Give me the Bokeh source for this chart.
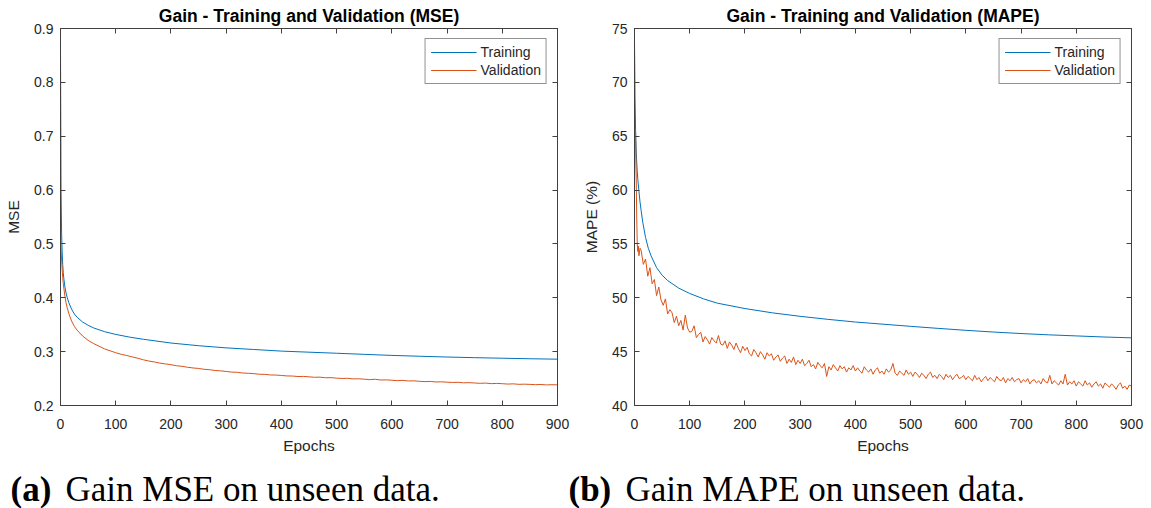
from bokeh.plotting import figure
from bokeh.models import Range1d, LinearAxis, FixedTicker, ColumnDataSource
from bokeh.layouts import row, column
from bokeh.embed import file_html
from bokeh.resources import INLINE
from bokeh.core.properties import value

# ---------------- data ----------------
titles = ["Gain - Training and Validation (MSE)", "Gain - Training and Validation (MAPE)"]
y_labels = ["MSE", "MAPE (%)"]
x_label = "Epochs"
series_names = ["Training", "Validation"]
captions_tag = ["(a)", "(b)"]
captions_text = ["Gain MSE on unseen data.", "Gain MAPE on unseen data."]

x_ticks = [0, 100, 200, 300, 400, 500, 600, 700, 800, 900]
mse_ticks = [0.2, 0.3, 0.4, 0.5, 0.6, 0.7, 0.8, 0.9]
mape_ticks = [40, 45, 50, 55, 60, 65, 70, 75]

train_epochs = [0, 1, 2, 3, 4, 5, 6, 8, 10, 12, 15, 20, 25, 30, 40, 50, 60, 80, 100, 125, 150,
                200, 250, 300, 350, 400, 450, 500, 550, 600, 650, 700, 750, 800, 850, 900]
mse_train = [0.860, 0.600, 0.520, 0.485, 0.462, 0.447, 0.436, 0.420, 0.409, 0.401, 0.391,
             0.379, 0.370, 0.364, 0.355, 0.349, 0.344, 0.337, 0.332, 0.327, 0.323,
             0.316, 0.311, 0.307, 0.304, 0.301, 0.299, 0.297, 0.295, 0.293, 0.2915,
             0.2900, 0.2888, 0.2878, 0.2868, 0.2860]
mape_train = [73.7, 68.5, 65.5, 63.8, 62.6, 61.7, 61.0, 59.9, 58.9, 58.1, 57.0,
              55.6, 54.6, 53.9, 52.8, 52.1, 51.6, 50.9, 50.4, 49.9, 49.5,
              49.0, 48.6, 48.28, 48.0, 47.75, 47.55, 47.35, 47.16, 46.98, 46.82,
              46.68, 46.56, 46.46, 46.36, 46.28]

mse_val_epochs = [0, 1, 2, 3, 4, 5, 6, 8, 10, 12, 15, 20, 25, 30, 40, 50, 60, 80, 100] + list(range(110, 901, 10))
mse_val = [0.525, 0.495, 0.470, 0.452, 0.438, 0.427, 0.418, 0.403, 0.391, 0.382, 0.371,
           0.357, 0.347, 0.340, 0.329, 0.321, 0.315, 0.305, 0.298,
           0.2950, 0.2928, 0.2902, 0.2878, 0.2848, 0.2826, 0.2808, 0.2787, 0.2772, 0.2758,
           0.2738, 0.2728, 0.2710, 0.2697, 0.2688, 0.2672, 0.2665, 0.2650, 0.2643, 0.2632,
           0.2620, 0.2617, 0.2603, 0.2598, 0.2592, 0.2580, 0.2578, 0.2567, 0.2565, 0.2558,
           0.2549, 0.2547, 0.2538, 0.2540, 0.2532, 0.2524, 0.2526, 0.2515, 0.2517, 0.2508,
           0.2502, 0.2505, 0.2494, 0.2496, 0.2489, 0.2480, 0.2487, 0.2473, 0.2476, 0.2469,
           0.2462, 0.2466, 0.2455, 0.2458, 0.2449, 0.2443, 0.2447, 0.2437, 0.2440, 0.2433,
           0.2428, 0.2431, 0.2421, 0.2424, 0.2418, 0.2412, 0.2416, 0.2406, 0.2410, 0.2405,
           0.2398, 0.2402, 0.2393, 0.2396, 0.2392, 0.2387, 0.2390, 0.2382, 0.2386, 0.2383]

mape_val_epochs = [0, 1, 2, 3, 4, 5, 6, 7, 8, 10] + list(range(12, 901, 4))
mape_val = [61.0, 64.0, 65.3, 61.5, 57.5, 55.0, 54.3, 54.8, 53.9, 54.6,
            # 12 .. 100
            54.4, 53.1, 53.6, 52.0, 52.8, 51.3, 51.7, 50.2, 51.0, 49.8, 49.3, 49.9,
            48.5, 48.9, 48.6, 47.7, 48.3, 47.4, 47.9, 47.0, 48.4, 47.2, 46.8,
            # 104 .. 200
            46.9, 47.4, 46.3, 46.6, 46.8, 45.9, 46.4, 46.1, 45.7, 46.3, 46.0, 45.8, 46.5,
            45.7, 45.6, 46.0, 45.3, 45.9, 45.6, 45.2, 45.8, 45.3, 44.9, 45.5, 45.1,
            # 204 .. 300
            45.4, 44.8, 44.6, 45.2, 44.9, 44.5, 45.0, 44.7, 44.3, 44.9, 44.6, 44.8, 44.2,
            44.5, 44.7, 44.1, 44.4, 44.6, 43.9, 44.3, 44.0, 44.5, 43.8, 44.2, 43.9,
            # 304 .. 400
            44.3, 43.7, 43.9, 44.2, 43.6, 43.8, 43.4, 44.0, 43.7, 43.5, 43.9, 42.7, 43.6,
            43.3, 43.8, 43.5, 43.2, 43.7, 43.4, 43.6, 43.1, 43.5, 43.3, 43.7, 43.2,
            # 404 .. 500
            43.5, 43.2, 43.0, 43.6, 43.3, 43.1, 43.4, 42.9, 43.3, 43.5, 43.0, 43.2, 42.9,
            43.4, 43.1, 43.3, 43.9, 43.0, 42.8, 43.2, 43.0, 42.8, 43.3, 42.9, 43.1,
            # 504 .. 600
            42.7, 43.1, 42.9, 42.6, 43.0, 42.8, 42.5, 42.9, 43.1, 42.6, 42.8, 42.5, 42.9,
            42.7, 42.4, 42.9, 42.6, 42.8, 42.4, 42.7, 42.9, 42.5, 42.6, 42.8, 42.4,
            # 604 .. 700
            42.7, 42.5, 42.3, 42.8, 42.4, 42.6, 42.2, 42.5, 42.7, 42.3, 42.6, 42.4, 42.2,
            42.7, 42.4, 42.3, 42.6, 42.1, 42.5, 42.3, 42.6, 42.2, 42.4, 42.5, 42.1,
            # 704 .. 800
            42.4, 42.2, 42.5, 42.0, 42.3, 42.4, 42.1, 42.3, 42.0, 42.5, 42.2, 42.1, 42.8,
            42.0, 42.3, 42.1, 41.9, 42.3, 42.0, 42.9, 41.9, 42.2, 42.0, 42.3, 41.8,
            # 804 .. 900
            42.2, 42.0, 41.8, 42.3, 41.9, 42.1, 41.7, 42.0, 42.2, 41.8, 42.0, 41.6, 42.1,
            41.9, 41.7, 42.0, 41.8, 41.5, 41.9, 42.1, 41.6, 41.8, 41.5, 41.9, 41.8]

# ---------------- style ----------------
BLUE = "#0072BD"
ORANGE = "#D95319"
AXC = "#404040"
TXT = "#262626"
SANS = "Liberation Sans"
SERIF = "Liberation Serif"


def make_plot(title, ylabel, ticks, yr, xs_tr, ys_tr, xs_va, ys_va, border_left, border_right):
    p = figure(width=border_left + 497 + border_right, height=460,
               frame_width=497, frame_height=377,
               x_range=Range1d(0, 900), y_range=Range1d(*yr),
               output_backend="svg", toolbar_location=None,
               min_border_left=border_left, min_border_right=border_right,
               min_border_top=28, min_border_bottom=55)
    p.background_fill_color = "white"
    p.border_fill_color = "white"
    p.xgrid.visible = False
    p.ygrid.visible = False
    p.outline_line_color = AXC
    p.outline_line_width = 1

    p.title.text = title
    p.title.align = "center"
    p.title.text_font = SANS
    p.title.text_font_size = "17.5px"
    p.title.text_font_style = "bold"
    p.title.text_color = "black"
    p.title.standoff = 6

    for ax in (p.xaxis[0], p.yaxis[0]):
        ax.major_tick_in = 5
        ax.major_tick_out = 0
        ax.minor_tick_line_color = None
        ax.axis_line_color = AXC
        ax.major_tick_line_color = AXC
        ax.major_label_text_font = SANS
        ax.major_label_text_font_size = "14px"
        ax.major_label_text_color = TXT
        ax.axis_label_text_font = SANS
        ax.axis_label_text_font_size = "15.5px"
        ax.axis_label_text_font_style = "normal"
        ax.axis_label_text_color = TXT
    p.xaxis[0].ticker = FixedTicker(ticks=x_ticks)
    p.yaxis[0].ticker = FixedTicker(ticks=ticks)
    p.xaxis[0].major_label_standoff = 13
    p.yaxis[0].major_label_standoff = 7
    p.xaxis[0].axis_label = x_label
    p.yaxis[0].axis_label = ylabel
    p.xaxis[0].axis_label_standoff = 5
    p.yaxis[0].axis_label_standoff = 9

    top = LinearAxis(ticker=FixedTicker(ticks=x_ticks))
    right = LinearAxis(ticker=FixedTicker(ticks=ticks))
    for ax in (top, right):
        ax.major_tick_in = 5
        ax.major_tick_out = 0
        ax.minor_tick_line_color = None
        ax.axis_line_color = AXC
        ax.major_tick_line_color = AXC
        ax.major_label_text_font_size = "0px"
        ax.major_label_standoff = 0
        ax.major_label_text_color = None
    p.add_layout(top, "above")
    p.add_layout(right, "right")

    p.line(xs_tr, ys_tr, line_color=BLUE, line_width=1, legend_label=series_names[0])
    p.line(xs_va, ys_va, line_color=ORANGE, line_width=1, legend_label=series_names[1])

    lg = p.legend[0]
    lg.location = "top_right"
    lg.margin = 10
    lg.padding = 5
    lg.spacing = 2
    lg.glyph_width = 46
    lg.glyph_height = 16
    lg.label_height = 16
    lg.label_standoff = 4
    lg.label_text_font = SANS
    lg.label_text_font_size = "14px"
    lg.label_text_color = TXT
    lg.border_line_color = TXT
    lg.border_line_width = 1
    lg.background_fill_alpha = 1.0
    return p


p1 = make_plot(titles[0], y_labels[0], mse_ticks, (0.2, 0.9),
               train_epochs, mse_train, mse_val_epochs, mse_val, 60, 19)
p2 = make_plot(titles[1], y_labels[1], mape_ticks, (40, 75),
               train_epochs, mape_train, mape_val_epochs, mape_val, 58, 20)

# caption strip
cap = figure(width=1151, height=48, x_range=Range1d(0, 1151), y_range=Range1d(0, 48),
             output_backend="svg", toolbar_location=None,
             min_border=0, min_border_left=0, min_border_right=0,
             min_border_top=0, min_border_bottom=0)
cap.title.text = ""
cap.title.visible = False
cap.axis.visible = False
cap.xgrid.visible = False
cap.ygrid.visible = False
cap.outline_line_color = None
cap.background_fill_color = "white"
cap.border_fill_color = "white"

tag_src = ColumnDataSource(dict(x=[10, 568], y=[19, 19], t=captions_tag))
txt_src = ColumnDataSource(dict(x=[65, 625], y=[19, 19], t=captions_text))
cap.text(x="x", y="y", text="t", source=tag_src, text_font=value(SERIF),
         text_font_style="bold", text_font_size="35px", text_color="black",
         text_baseline="alphabetic", text_align="left")
cap.text(x="x", y="y", text="t", source=txt_src, text_font=value(SERIF),
         text_font_size="35px", text_color="black",
         text_baseline="alphabetic", text_align="left")

layout = column(row(p1, p2, spacing=0), cap, spacing=0)
open("out.html", "w").write(file_html(layout, INLINE))
